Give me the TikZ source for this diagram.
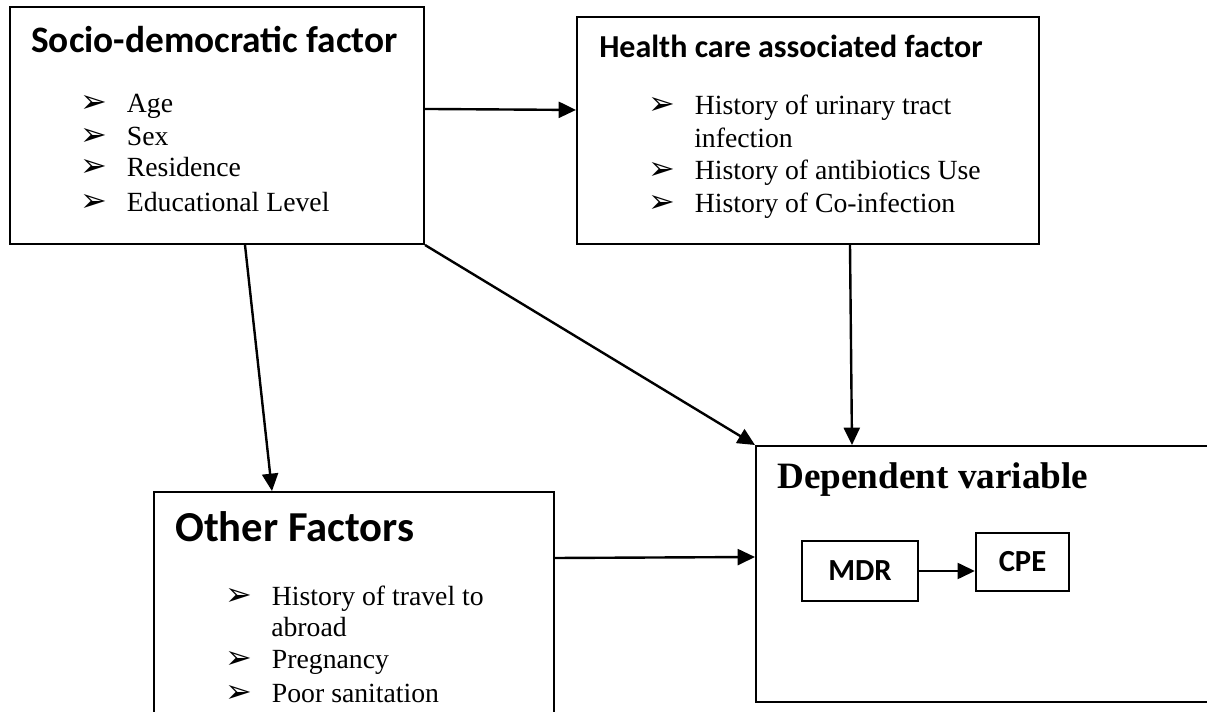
\documentclass[tikz,border=0pt]{standalone}
\usepackage{fontspec}
\setmainfont{Liberation Serif}
\newfontfamily\calibri{Carlito}
\newfontfamily\dingfont{DejaVu Sans}
\usetikzlibrary{positioning, arrows.meta, fit}
\newcommand{\bul}{\makebox[35pt][l]{\dingfont\fontsize{24}{24}\selectfont ➢}}

\begin{document}
\begin{tikzpicture}[x=0.75pt, y=-0.75pt,
  box/.style={draw, line width=1.5pt, inner sep=0pt},
  hd/.style={anchor=base west, inner sep=0pt, font=\calibri\bfseries},
  itm/.style={anchor=base west, inner sep=0pt, font=\fontsize{20.8}{25}\selectfont},
  sm/.style={draw, line width=1.5pt, inner sep=0pt, font=\calibri\bfseries\fontsize{23}{28}\selectfont},
  arr/.style={line width=1.8pt, -{Triangle[length=13pt, width=12pt]}}]
\useasboundingbox (0,0) rectangle (1207,712);
\clip (0,0) rectangle (1207,712);
% frames
\node[box, fit={(10,7) (424,244)}] (socio) {};
\node[box, fit={(577,17) (1039,244)}] (health) {};
\node[box, fit={(154,492) (554,740)}] (other) {};
\node[box, fit={(756,446) (1240,702)}] (dep) {};
% socio-democratic
\node[hd, font=\calibri\bfseries\fontsize{28}{33}\selectfont] (sochd) at (31,53) {Socio-democratic factor};
\node[itm] (age) at (80,113) {\bul Age};
\node[itm] (sex) at (80,146) {\bul Sex};
\node[itm] (res) at (80,177) {\bul Residence};
\node[itm] (edu) at (80,212) {\bul Educational Level};
% health care
\node[hd, font=\calibri\bfseries\fontsize{24}{28}\selectfont] (hchd) at (599,58) {Health care associated factor};
\node[itm] (uti) at (648,115) {\bul History of urinary tract};
\node[itm] (uti2) at (694,148) {infection};
\node[itm] (abx) at (648,180) {\bul History of antibiotics Use};
\node[itm] (coinf) at (648,213) {\bul History of Co-infection};
% other
\node[hd, font=\calibri\bfseries\fontsize{32}{38}\selectfont] (othd) at (175,542) {Other Factors};
\node[itm] (trav) at (225,605) {\bul History of travel to};
\node[itm] (trav2) at (271,637) {abroad};
\node[itm] (preg) at (225,668) {\bul Pregnancy};
\node[itm] (sani) at (225,702) {\bul Poor sanitation};
% dependent
\node[hd, font=\bfseries\fontsize{27.9}{33}\selectfont] (dephd) at (777,489) {Dependent variable};
\node[sm, minimum width=87pt, minimum height=45pt] (mdr) at (860,571) {MDR};
\node[sm, minimum width=70pt, minimum height=43.5pt] (cpe) at (1022.5,562) {CPE};
% arrows
\draw[arr] ([yshift=12.4pt]socio.east) -- ([yshift=15.4pt]health.west);
\draw[arr] ([xshift=21pt]socio.south) -- ([xshift=-61.5pt]other.north);
\draw[arr] (socio.south east) -- (dep.north west);
\draw[arr] ([xshift=31.5pt]health.south) -- ([xshift=72.75pt]dep.north west);
\draw[arr] ([yshift=-50.25pt]other.north east) -- ([yshift=-84pt]dep.north west);
\draw[arr] (mdr) -- (mdr -| cpe.west);
\end{tikzpicture}
\end{document}
